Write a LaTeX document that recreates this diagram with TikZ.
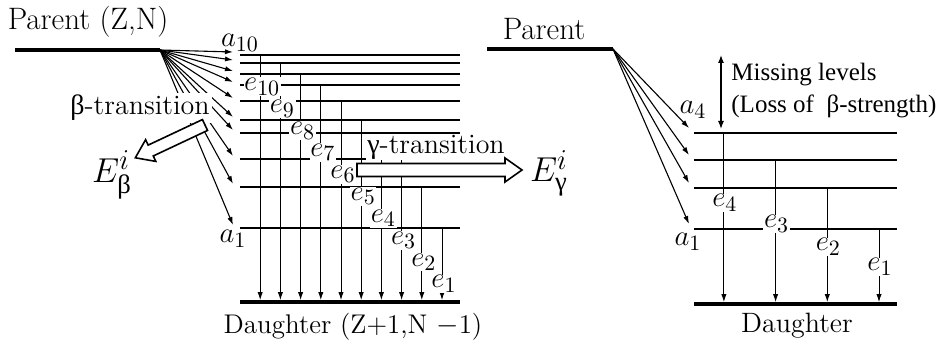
\documentclass[tikz,border=0pt]{standalone}
\usepackage{fontspec}
\usepackage{amsmath}
\newfontfamily\grk{Liberation Serif}
\usetikzlibrary{arrows.meta,calc}

\begin{document}
\begin{tikzpicture}[x=0.5pt, y=-0.5pt,
  lvl/.style={line width=1pt},
  gnd/.style={line width=1.8pt},
  feed/.style={-{Latex[length=4pt,width=2.6pt]}, line width=0.55pt},
  gam/.style={-{Latex[length=4pt,width=2.6pt]}, line width=0.5pt, shorten >=0.9pt},
  txt/.style={font=\fontsize{14}{16}\selectfont, inner sep=1pt},
  lab/.style={font=\fontsize{15}{17}\selectfont, fill=white, inner sep=0.3pt, text height=6.4pt, text depth=2.4pt},
  big/.style={font=\fontsize{19}{21}\selectfont, inner sep=0pt},
  hollow/.style={draw, fill=white, line width=0.8pt, line join=miter}
]
\useasboundingbox (0,0) rectangle (950,342);

% left: many fed levels
\node[txt, font=\fontsize{15.5}{17}\selectfont] (parL) at (88,22) {Parent (Z,N)};
\coordinate (pL0) at (15,50);
\coordinate (pL) at (160,50);
\draw[gnd] (pL0) -- (pL);
\coordinate (dL0) at (240,302);
\coordinate (dL1) at (460,302);
\draw[gnd] (dL0) -- (dL1);
\node[txt, font=\fontsize{13.5}{15}\selectfont] (dauL) at (353,327) {Daughter (Z+1,N $-$1)};

\foreach \i/\y in {1/228,2/187,3/159,4/133,5/120,6/101,7/85,8/74,9/63,10/55} {
  \pgfmathsetmacro{\xv}{442-(\i-1)*20.2}
  \coordinate (s\i) at (240,\y);
  \coordinate (t\i) at (460,\y);
  \coordinate (v\i) at (\xv,\y);
  \draw[lvl] (s\i) -- (t\i);
  \draw[gam] (v\i) -- (v\i |- dL0);
  \draw[feed] (pL) -- ($(s\i)+(-7,-3)$);
}
\foreach \i in {1,...,10} {
  \pgfmathsetmacro{\xv}{444-(\i-1)*20.2}
  \pgfmathsetmacro{\ye}{284-(\i-1)*21.9}
  \node[lab] (e\i) at (\xv,\ye) {$e_{\i}$};
}
\node[lab, fill=none] (a10) at (240,43) {$a_{10}$};
\node[lab, fill=none] (a1) at (233,239) {$a_1$};

% beta and gamma sums
\node[txt, fill=white] (btr) at (140,108) {{\grk β}-transition};
\node[big] (Eb) at (112,175) {$E^{i}_{\text{\grk β}}$};
\coordinate (bs) at (205,125);
\draw[hollow, shift={(bs)}, rotate=205.2]
  (0,-6) -- (60,-6) -- (60,-12) -- (77,0) -- (60,12) -- (60,6) -- (0,6) -- cycle;

\node[txt, fill=white, inner sep=0.5pt] (gtr) at (436,147) {{\grk γ}-transition};
\node[big] (Eg) at (549,173) {$E^{i}_{\text{\grk γ}}$};
\coordinate (gs) at (357,170);
\draw[hollow, shift={(gs)}]
  (0,-6.5) -- (148,-6.5) -- (148,-12) -- (165,0) -- (148,12) -- (148,6.5) -- (0,6.5) -- cycle;

% right: missing levels
\node[txt, font=\fontsize{15.5}{17}\selectfont] (parR) at (544,29) {Parent};
\coordinate (pR0) at (487,49);
\coordinate (pR) at (613,49);
\draw[gnd] (pR0) -- (pR);
\coordinate (dR0) at (694,304);
\coordinate (dR1) at (897,304);
\draw[gnd] (dR0) -- (dR1);
\node[txt] (dauR) at (797,326) {Daughter};

\foreach \i/\y in {1/229,2/188,3/160,4/133} {
  \pgfmathsetmacro{\xv}{879-(\i-1)*51.7}
  \coordinate (r\i) at (694,\y);
  \coordinate (q\i) at (897,\y);
  \coordinate (w\i) at (\xv,\y);
  \draw[lvl] (r\i) -- (q\i);
  \draw[gam] (w\i) -- (w\i |- dR0);
  \draw[feed] (pR) -- ($(r\i)+(-5,-5)$);
}
\foreach \i/\y in {1/267,2/247,3/224,4/203} {
  \pgfmathsetmacro{\xv}{880-(\i-1)*51.7}
  \node[lab] (f\i) at (\xv,\y) {$e_{\i}$};
}
\node[lab, fill=none] (b4) at (693,110) {$a_4$};
\node[lab, fill=none] (b1) at (688,242) {$a_1$};

\coordinate (m0) at (721,55);
\coordinate (m1) at (721,129);
\draw[{Latex[length=4pt,width=3pt]}-{Latex[length=4pt,width=3pt]}, line width=0.6pt] (m0) -- (m1);
\node[anchor=west, align=left, inner sep=0pt, font=\grk\fontsize{12.5}{16}\selectfont] (miss) at (731,91)
  {Missing levels\\(Loss of \ β-strength)};
\end{tikzpicture}
\end{document}
